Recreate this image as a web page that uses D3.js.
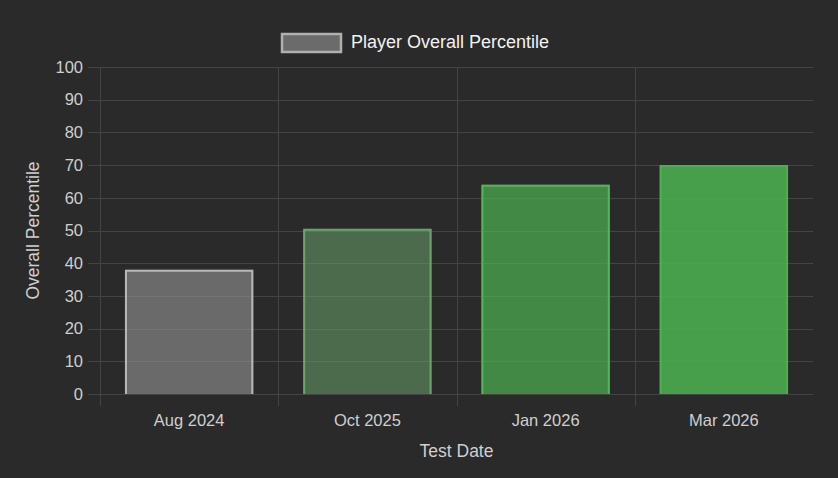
<!DOCTYPE html>
<html>
<head>
<meta charset="utf-8">
<script src="https://cdn.jsdelivr.net/npm/d3@7"></script>
<style>
  html, body { margin: 0; padding: 0; background: #2a2a2a; }
  svg { display: block; font-family: "Liberation Sans", Arial, Helvetica, sans-serif; }
</style>
</head>
<body>
<div id="chart"></div>
<script>
// chart data
const testDates = ['Aug 2024', 'Oct 2025', 'Jan 2026', 'Mar 2026'];
const percentiles = [38, 50.5, 64, 70];
const yTicks = [0, 10, 20, 30, 40, 50, 60, 70, 80, 90, 100];
const seriesLabel = 'Player Overall Percentile';

// styles
const BG = '#2a2a2a';
const GRID = '#444444';
const TICK_TEXT = '#cfcfcf';
const BAR_FILLS = ['rgba(150,150,150,0.6)', 'rgba(110,170,110,0.5)', 'rgba(76,175,80,0.72)', 'rgba(76,175,80,0.88)'];
const BAR_BORDERS = ['#b8b8b8', '#6aa56c', '#52b556', '#4caf50'];

const W = 838, H = 478;
const margin = {top: 67, right: 25, bottom: 84, left: 100};
const innerW = W - margin.left - margin.right;
const innerH = H - margin.top - margin.bottom;

const svg = d3.select('#chart').append('svg')
  .attr('width', W)
  .attr('height', H);

svg.append('rect').attr('width', W).attr('height', H).attr('fill', BG);

const g = svg.append('g')
  .attr('transform', `translate(${margin.left},${margin.top})`);

const y = d3.scaleLinear().domain([0, 100]).range([innerH, 0]);

// category slots (for grid lines) and bars (0.8 * 0.9 of slot)
const slot = d3.scaleBand().domain(testDates).range([0, innerW]).padding(0);
const x = d3.scaleBand().domain(testDates).range([0, innerW])
  .paddingInner(0.28).paddingOuter(0.14);

// horizontal grid + tick marks
g.append('g').selectAll('line')
  .data(yTicks)
  .enter().append('line')
    .attr('x1', -12)
    .attr('x2', innerW)
    .attr('y1', d => Math.round(y(d)) + 0.5)
    .attr('y2', d => Math.round(y(d)) + 0.5)
    .attr('stroke', GRID)
    .attr('stroke-width', 1);

// vertical grid at category boundaries (no line at right edge)
g.append('g').selectAll('line')
  .data(testDates)
  .enter().append('line')
    .attr('x1', d => Math.round(slot(d)) + 0.5)
    .attr('x2', d => Math.round(slot(d)) + 0.5)
    .attr('y1', 0)
    .attr('y2', innerH + 12)
    .attr('stroke', GRID)
    .attr('stroke-width', 1);

// bars
const bars = g.append('g').selectAll('g')
  .data(testDates.map((d, i) => ({key: d, value: percentiles[i], i: i})))
  .enter().append('g');

bars.append('rect')
  .attr('x', d => x(d.key))
  .attr('y', d => y(d.value))
  .attr('width', x.bandwidth())
  .attr('height', d => y(0) - y(d.value))
  .attr('fill', d => BAR_FILLS[d.i]);

// border on top/left/right only (bottom skipped)
bars.append('path')
  .attr('d', d => {
    const x0 = x(d.key) + 1, x1 = x(d.key) + x.bandwidth() - 1;
    const yt = y(d.value) + 1, yb = y(0);
    return `M${x0},${yb}V${yt}H${x1}V${yb}`;
  })
  .attr('fill', 'none')
  .attr('stroke', d => BAR_BORDERS[d.i])
  .attr('stroke-width', 2);

// y axis labels
const yAxis = g.append('g')
  .call(d3.axisLeft(y).tickValues(yTicks).tickSize(12).tickPadding(5));
yAxis.select('.domain').remove();
yAxis.selectAll('.tick line').remove();
yAxis.selectAll('text')
  .attr('fill', TICK_TEXT)
  .attr('font-size', '16.5px')
  .attr('font-family', null);

// x axis labels
const xAxis = g.append('g')
  .attr('transform', `translate(0,${innerH})`)
  .call(d3.axisBottom(slot).tickSize(0).tickPadding(20));
xAxis.select('.domain').remove();
xAxis.selectAll('text')
  .attr('fill', TICK_TEXT)
  .attr('font-size', '16.5px')
  .attr('font-family', null);

// axis titles
svg.append('text')
  .attr('x', margin.left + innerW / 2)
  .attr('y', 457)
  .attr('text-anchor', 'middle')
  .attr('fill', TICK_TEXT)
  .attr('font-size', '17.5px')
  .text('Test Date');

svg.append('text')
  .attr('transform', `translate(39,${margin.top + innerH / 2}) rotate(-90)`)
  .attr('text-anchor', 'middle')
  .attr('fill', TICK_TEXT)
  .attr('font-size', '17.5px')
  .text('Overall Percentile');

// legend
const legend = svg.append('g');
legend.append('rect')
  .attr('x', 282)
  .attr('y', 34)
  .attr('width', 59)
  .attr('height', 18)
  .attr('fill', '#6b6b6b')
  .attr('stroke', '#b0b0b0')
  .attr('stroke-width', 2.5);
legend.append('text')
  .attr('x', 351)
  .attr('y', 48.3)
  .attr('fill', '#f2f2f2')
  .attr('font-size', '18px')
  .text(seriesLabel);
</script>
</body>
</html>
